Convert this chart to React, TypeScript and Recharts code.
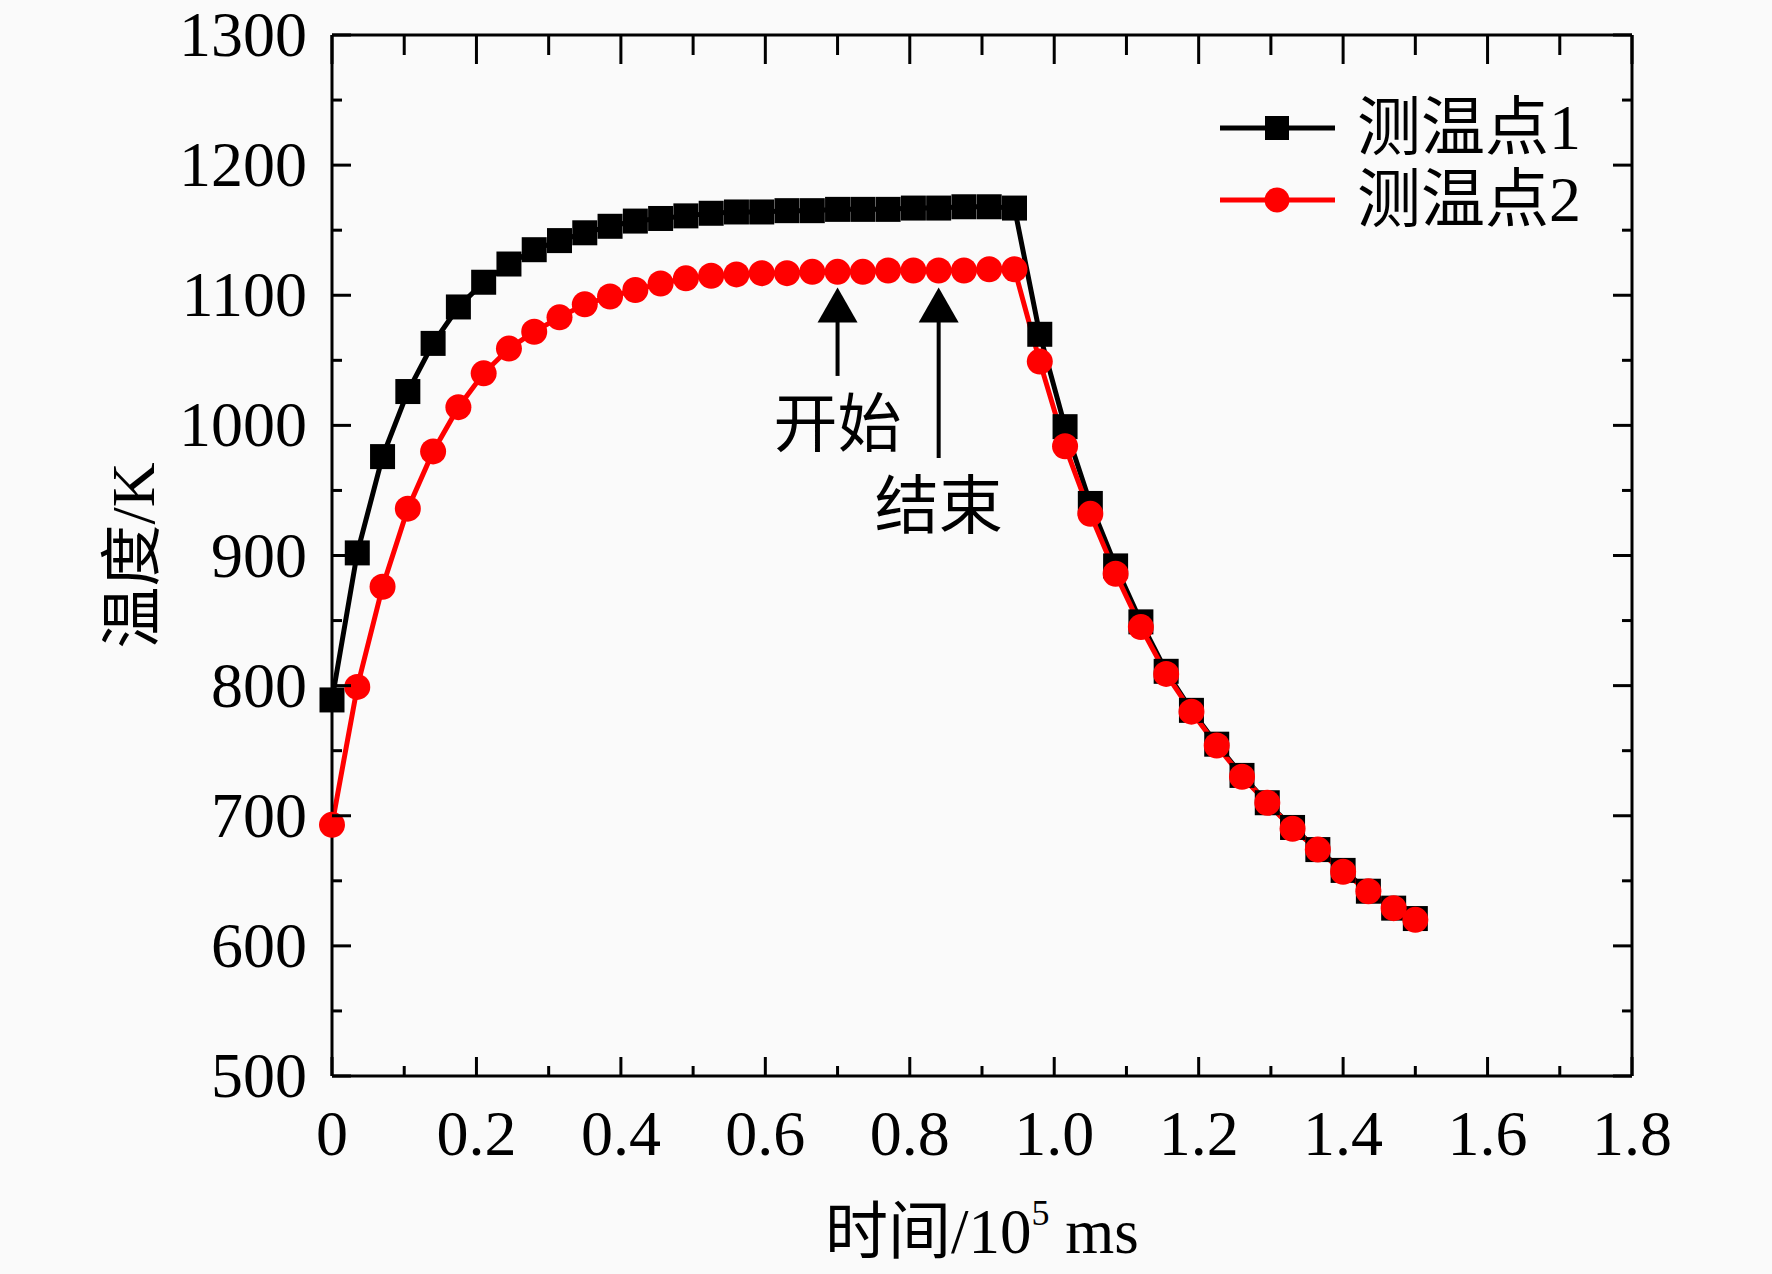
import { LineChart, Line, XAxis, YAxis, ReferenceLine, Legend, Label } from "recharts";

const serif = "'Liberation Serif', 'Times New Roman', 'Noto Sans CJK SC', serif";

// time axis, unit 10^5 ms
const timeTicks = [0, 0.1, 0.2, 0.3, 0.4, 0.5, 0.6, 0.7, 0.8, 0.9, 1.0, 1.1, 1.2, 1.3, 1.4, 1.5, 1.6, 1.7, 1.8];
const tempTicks = [500, 550, 600, 650, 700, 750, 800, 850, 900, 950, 1000, 1050, 1100, 1150, 1200, 1250, 1300];

const times = [
  0, 0.035, 0.07, 0.105, 0.14, 0.175, 0.21, 0.245, 0.28, 0.315, 0.35, 0.385, 0.42, 0.455, 0.49,
  0.525, 0.56, 0.595, 0.63, 0.665, 0.7, 0.735, 0.77, 0.805, 0.84, 0.875, 0.91, 0.945, 0.98,
  1.015, 1.05, 1.085, 1.12, 1.155, 1.19, 1.225, 1.26, 1.295, 1.33, 1.365, 1.4, 1.435, 1.47, 1.5,
];

const point1 = [
  789, 902, 976, 1026, 1063, 1091, 1110, 1124, 1135, 1142, 1148, 1153, 1157, 1159, 1161,
  1163, 1164, 1164, 1165, 1165, 1166, 1166, 1166, 1167, 1167, 1168, 1168, 1167, 1070,
  999, 940, 892, 849, 811, 781, 755, 731, 710, 691, 674, 658, 642, 629, 621,
];

const point2 = [
  693, 799, 876, 936, 980, 1014, 1040, 1059, 1072, 1083, 1093, 1099, 1104, 1109, 1113,
  1115, 1116, 1117, 1117, 1118, 1118, 1118, 1119, 1119, 1119, 1119, 1120, 1120, 1049,
  984, 932, 886, 845, 809, 780, 754, 730, 710, 690, 674, 657, 642, 629, 620,
];

const seriesNames = ["测温点1", "测温点2"];

// arrows: tail and tip temperatures at a given time
const arrows = [
  { t: 0.7, tail: 1038, tip: 1106, text: "开始" },
  { t: 0.84, tail: 975, tip: 1106, text: "结束" },
];

const data = times.map((t, i) => ({ t, p1: point1[i], p2: point2[i] }));

const isMajorX = (v: number) => Math.round(v * 10) % 2 === 0;
const isMajorY = (v: number) => v % 100 === 0;

function BottomTick({ x, y, payload }: any) {
  const v = payload.value;
  const major = isMajorX(v);
  return (
    <g>
      <line x1={x} x2={x} y1={y} y2={y - (major ? 19 : 10)} stroke="#000" strokeWidth={3} />
      {major && (
        <text x={x} y={y + 79} textAnchor="middle" fontSize={64} fontFamily={serif} fill="#000">
          {v === 0 ? "0" : v.toFixed(1)}
        </text>
      )}
    </g>
  );
}

function TopTick({ x, y, payload }: any) {
  const major = isMajorX(payload.value);
  return <line x1={x} x2={x} y1={y} y2={y + (major ? 19 : 10)} stroke="#000" strokeWidth={3} />;
}

function LeftTick({ x, y, payload }: any) {
  const v = payload.value;
  const major = isMajorY(v);
  return (
    <g>
      <line x1={x} x2={x + (major ? 19 : 10)} y1={y} y2={y} stroke="#000" strokeWidth={3} />
      {major && (
        <text x={x - 25} y={y + 21} textAnchor="end" fontSize={64} fontFamily={serif} fill="#000">
          {v}
        </text>
      )}
    </g>
  );
}

function RightTick({ x, y, payload }: any) {
  const major = isMajorY(payload.value);
  return <line x1={x} x2={x - (major ? 19 : 10)} y1={y} y2={y} stroke="#000" strokeWidth={3} />;
}

function XTitle({ viewBox }: any) {
  const cx = viewBox.x + viewBox.width / 2;
  return (
    <text x={cx} y={viewBox.y + 177} textAnchor="middle" fontSize={63} fontFamily={serif} fill="#000">
      时间/10
      <tspan fontSize={36} dy={-28}>5</tspan>
      <tspan dy={28}> ms</tspan>
    </text>
  );
}

function YTitle({ viewBox }: any) {
  const cy = viewBox.y + viewBox.height / 2;
  return (
    <text
      x={133}
      y={cy}
      transform={`rotate(-90 133 ${cy})`}
      textAnchor="middle"
      dominantBaseline="central"
      fontSize={62}
      fontFamily={serif}
      fill="#000"
    >
      温度/K
    </text>
  );
}

function SquareDot({ cx, cy, index }: any) {
  return <rect key={`s-${index}`} x={cx - 12.5} y={cy - 12.5} width={25} height={25} fill="#000" />;
}

function arrowShape(text: string) {
  return ({ x1, y1, x2, y2 }: any) => (
    <g>
      <line x1={x1} x2={x2} y1={y1} y2={y2 + 30} stroke="#000" strokeWidth={4} />
      <polygon points={`${x2},${y2} ${x2 - 20},${y2 + 35} ${x2 + 20},${y2 + 35}`} fill="#000" />
      <text x={x1} y={y1 + 49} textAnchor="middle" dominantBaseline="central" fontSize={64} fontFamily={serif} fill="#000">
        {text}
      </text>
    </g>
  );
}

function LegendBox({ payload }: any) {
  return (
    <div>
      {(payload || []).map((entry: any) => (
        <div key={entry.value} style={{ display: "flex", alignItems: "center", height: 72 }}>
          <svg width={120} height={30}>
            <line x1={2} x2={117} y1={15} y2={15} stroke={entry.color} strokeWidth={5} />
            {entry.dataKey === "p1" ? (
              <rect x={47} y={3} width={24} height={24} fill="#000" />
            ) : (
              <circle cx={59} cy={15} r={12.5} fill="#ff0000" />
            )}
          </svg>
          <span style={{ marginLeft: 19, fontSize: 64, lineHeight: "72px", fontFamily: serif, color: "#000" }}>
            {entry.value}
          </span>
        </div>
      ))}
    </div>
  );
}

export default function App() {
  return (
    <div style={{ position: "absolute", left: 0, top: 0, width: 1772, height: 1274, background: "#fafafa" }}>
      <LineChart width={1772} height={1274} data={data} margin={{ top: 34, right: 139, bottom: 78, left: 232 }}>
        <XAxis
          dataKey="t"
          type="number"
          domain={[0, 1.8]}
          ticks={timeTicks}
          interval={0}
          height={120}
          tickSize={0}
          tickMargin={0}
          tickLine={false}
          tick={<BottomTick />}
          axisLine={{ stroke: "#000", strokeWidth: 3 }}
        >
          <Label content={<XTitle />} />
        </XAxis>
        <XAxis
          xAxisId="top"
          orientation="top"
          dataKey="t"
          type="number"
          domain={[0, 1.8]}
          ticks={timeTicks}
          interval={0}
          height={1}
          tickSize={-10}
          tickMargin={0}
          tickLine={{ stroke: "#000", strokeWidth: 3 }}
          tick={<TopTick />}
          axisLine={{ stroke: "#000", strokeWidth: 3 }}
        />
        <YAxis
          type="number"
          domain={[500, 1300]}
          ticks={tempTicks}
          interval={0}
          width={100}
          tickSize={0}
          tickMargin={0}
          tickLine={false}
          tick={<LeftTick />}
          axisLine={{ stroke: "#000", strokeWidth: 3 }}
        >
          <Label content={<YTitle />} />
        </YAxis>
        <YAxis
          yAxisId="right"
          orientation="right"
          type="number"
          domain={[500, 1300]}
          allowDataOverflow
          ticks={tempTicks}
          interval={0}
          width={1}
          tickSize={0}
          tickMargin={0}
          tickLine={false}
          tick={<RightTick />}
          axisLine={{ stroke: "#000", strokeWidth: 3 }}
        />
        {arrows.map((a) => (
          <ReferenceLine
            key={a.text}
            segment={[
              { x: a.t, y: a.tail },
              { x: a.t, y: a.tip },
            ]}
            shape={arrowShape(a.text)}
          />
        ))}
        <Line
          dataKey="p1"
          name={seriesNames[0]}
          type="linear"
          stroke="#000"
          strokeWidth={5}
          dot={<SquareDot />}
          activeDot={false}
          isAnimationActive={false}
        />
        <Line
          dataKey="p2"
          name={seriesNames[1]}
          type="linear"
          stroke="#ff0000"
          strokeWidth={5}
          dot={{ r: 13, fill: "#ff0000", stroke: "none" }}
          activeDot={false}
          isAnimationActive={false}
        />
        <Legend
          layout="vertical"
          verticalAlign="middle"
          align="center"
          content={<LegendBox />}
          wrapperStyle={{ left: 1218, top: 92, width: 420, height: 144 }}
        />
      </LineChart>
    </div>
  );
}
